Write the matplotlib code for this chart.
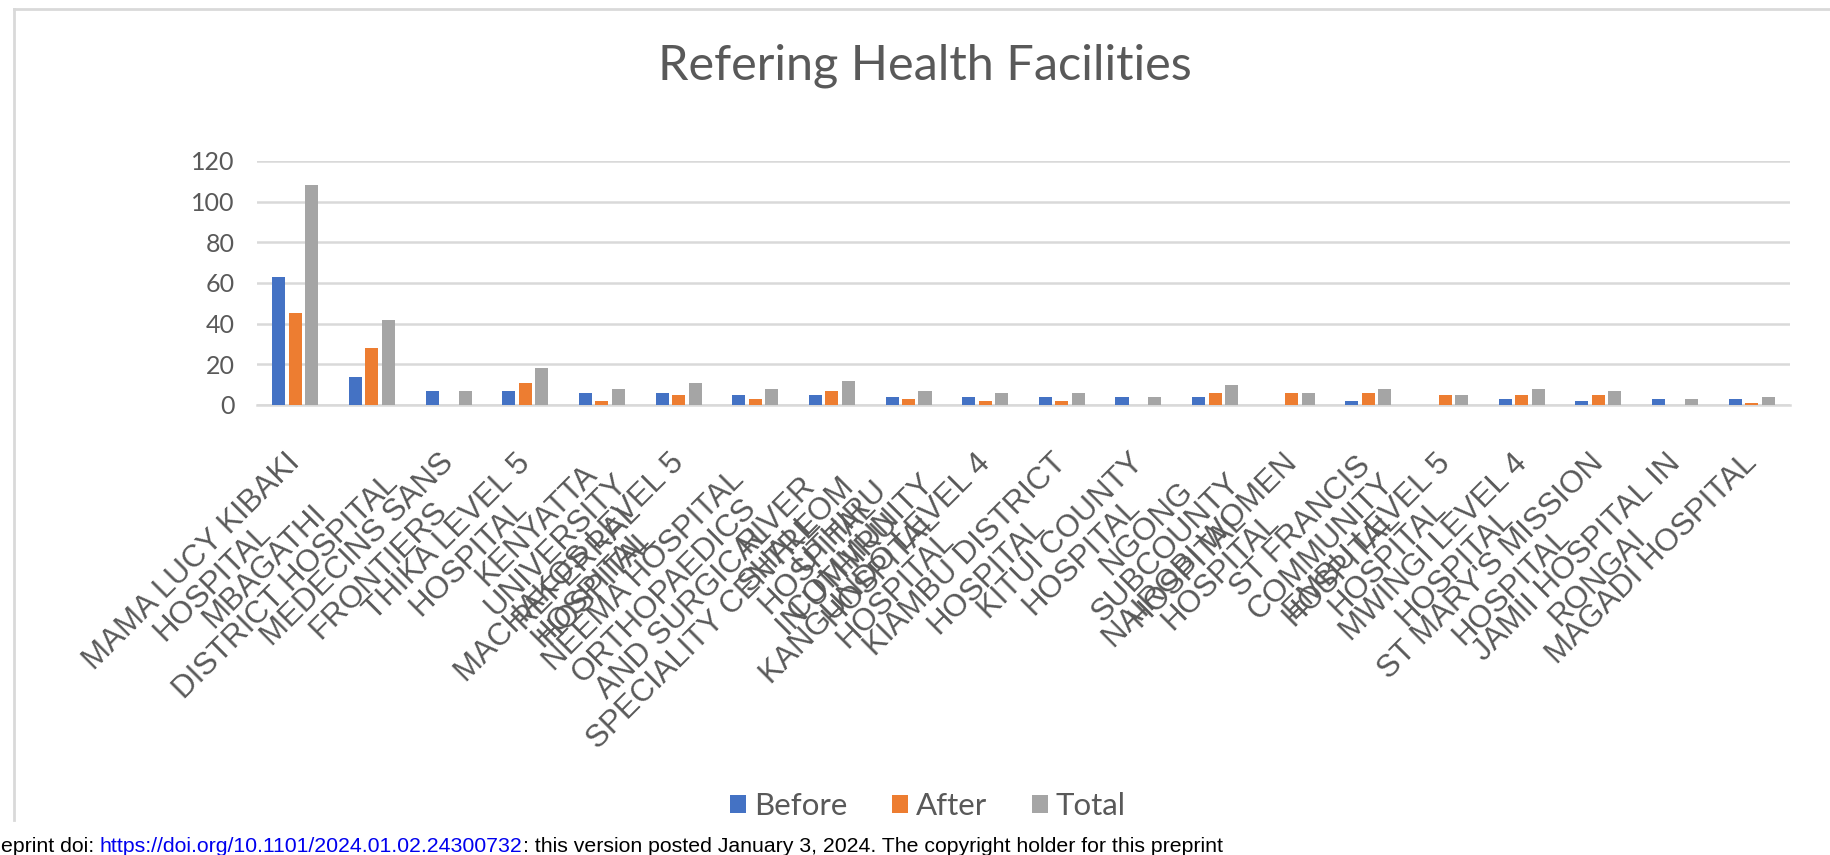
import numpy as np
import matplotlib
matplotlib.use("Agg")
import matplotlib.pyplot as plt
import matplotlib.transforms as mtransforms
from matplotlib.patches import Patch
from matplotlib.lines import Line2D

# ---------------- data ----------------
facilities = [
    "MAMA LUCY KIBAKI\nHOSPITAL",
    "MBAGATHI\nDISTRICT HOSPITAL",
    "MEDECINS SANS\nFRONTIERS",
    "THIKA LEVEL 5\nHOSPITAL",
    "KENYATTA\nUNIVERSITY\nREFERRAL\nHOSPITAL",
    "MACHAKOS LEVEL 5\nHOSPITAL",
    "NEEMA HOSPITAL\nORTHOPAEDICS\nAND SURGICAL\nSPECIALITY CENTRE",
    "RIVER\nSHALLOM\nHOSPITAL\nIN UTHIRU",
    "UTHIRU\nCOMMUNITY\nHOSPITAL",
    "KANGUNDO LEVEL 4\nHOSPITAL",
    "KIAMBU DISTRICT\nHOSPITAL",
    "KITUI COUNTY\nHOSPITAL",
    "NGONG\nSUBCOUNTY\nHOSPITAL",
    "NAIROBI WOMEN\nHOSPITAL",
    "ST FRANCIS\nCOMMUNITY\nHOSPITAL",
    "EMBU LEVEL 5\nHOSPITAL",
    "MWINGI LEVEL 4\nHOSPITAL",
    "ST MARY'S MISSION\nHOSPITAL",
    "JAMII HOSPITAL IN\nRONGAI",
    "MAGADI HOSPITAL",
]
before = [63, 14, 7, 7, 6, 6, 5, 5, 4, 4, 4, 4, 4, 0, 2, 0, 3, 2, 3, 3]
after = [45, 28, 0, 11, 2, 5, 3, 7, 3, 2, 2, 0, 6, 6, 6, 5, 5, 5, 0, 1]
total = [108, 42, 7, 18, 8, 11, 8, 12, 7, 6, 6, 4, 10, 6, 8, 5, 8, 7, 3, 4]
series_names = ["Before", "After", "Total"]
series_colors = ["#4472C4", "#ED7D31", "#A5A5A5"]
yticks = [0, 20, 40, 60, 80, 100, 120]

W, H = 1831, 855
fig = plt.figure(figsize=(W / 100, H / 100), dpi=100)
fig.patch.set_facecolor("white")

ax = fig.add_axes([257 / W, 1 - 405 / H, (1790 - 257) / W, (405 - 161) / H])
x = np.arange(len(facilities))
bw = 0.17
off = 0.215
for vals, c, dx in zip([before, after, total], series_colors, [-off, 0, off]):
    ax.bar(x + dx, vals, bw, color=c, zorder=3)

ax.set_xlim(-0.5, len(facilities) - 0.5)
ax.set_ylim(0, 120)
ax.set_yticks(yticks)
ax.yaxis.grid(True, color="#D9D9D9", lw=1.8, zorder=0)
ax.set_axisbelow(True)
for s in ["top", "right", "left"]:
    ax.spines[s].set_visible(False)
ax.spines["bottom"].set_color("#D9D9D9")
ax.spines["bottom"].set_linewidth(1.8)
ax.tick_params(axis="both", length=0)
ax.tick_params(axis="y", pad=16, labelsize=18, labelcolor="#595959")
for t in ax.get_yticklabels():
    t.set_family("Lato")

ax.set_xticks(x)
ax.set_xticklabels(facilities, rotation=45, ha="right", va="top",
                   rotation_mode="anchor", fontsize=22.5, color="#595959",
                   family="Liberation Sans", linespacing=0.95,
                   multialignment="center")
ax.tick_params(axis="x", pad=31)
shift = mtransforms.ScaledTranslation(-10 / 100, 0, fig.dpi_scale_trans)
for lab in ax.get_xticklabels():
    lab.set_transform(lab.get_transform() + shift)

fig.text(925 / W, 1 - 66 / H, "Refering Health Facilities", ha="center",
         va="center", fontsize=35, family="Lato", color="#595959")

handles = [Patch(facecolor=c, edgecolor="none") for c in series_colors]
fig.legend(handles, series_names, loc="center",
           bbox_to_anchor=(928 / W, 1 - 806 / H), ncol=3, frameon=False,
           prop={"family": "Lato", "size": 22.5}, labelcolor="#595959",
           handlelength=0.5, handleheight=0.5, handletextpad=0.25,
           columnspacing=1.45)

# frame lines
fig.add_artist(Line2D([14 / W, 1], [1 - 9 / H, 1 - 9 / H],
                      transform=fig.transFigure, color="#D9D9D9", lw=2))
fig.add_artist(Line2D([14 / W, 14 / W], [1 - 9 / H, 1 - 820 / H],
                      transform=fig.transFigure, color="#D9D9D9", lw=2))

# footer
parts = [("eprint doi: ", "black"),
         ("https://doi.org/10.1101/2024.01.02.24300732", "#0000EE"),
         (": this version posted January 3, 2024. The copyright holder for this preprint", "black")]
renderer = fig.canvas.get_renderer()
fs = 15.3
ypos = 1 - 846 / H
xpos = 1
for txt, col in parts:
    t = fig.text(xpos / W, ypos, txt, ha="left", va="center", fontsize=fs,
                 family="Liberation Sans", color=col)
    bb = t.get_window_extent(renderer=renderer)
    xpos += bb.width

fig.savefig("out.png", dpi=100, facecolor="white")
